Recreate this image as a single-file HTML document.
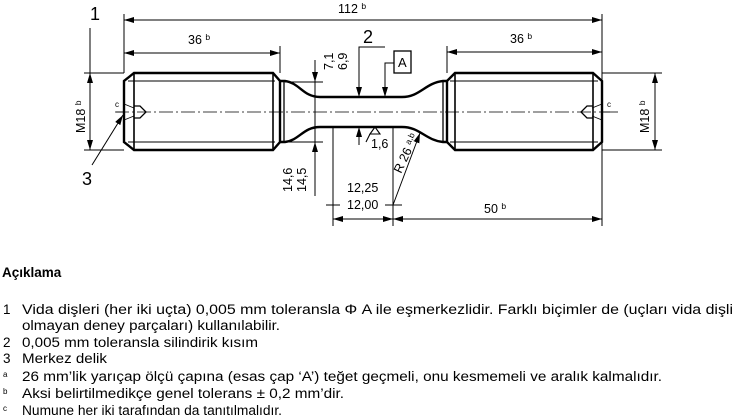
<!DOCTYPE html>
<html><head><meta charset="utf-8"><style>
html,body{margin:0;padding:0;background:#fff;width:735px;height:420px;overflow:hidden}
svg{display:block}
.t{font-family:"Liberation Sans",sans-serif;font-size:13.5px;fill:#000}
.d{font-family:"Liberation Sans",sans-serif;font-size:12.5px;fill:#000}
</style></head><body>
<svg width="735" height="420" viewBox="0 0 735 420" xmlns="http://www.w3.org/2000/svg">
<defs>
<marker id="a" viewBox="0 0 10 6" refX="10" refY="3" markerWidth="10" markerHeight="6" orient="auto-start-reverse" markerUnits="userSpaceOnUse"><path d="M0,0 L10,3 L0,6 z" fill="#000"/></marker>
</defs>
<g stroke="#000" fill="none">
<path d="M134,73 L273,73 L280,81 L280,142 L273,150 L134,150 L124,142 L124,81 Z" stroke-width="2.4"/>
<line x1="134" y1="73" x2="134" y2="150" stroke-width="1.6"/>
<line x1="273" y1="73" x2="273" y2="150" stroke-width="1.6"/>
<line x1="128" y1="81" x2="275" y2="81" stroke-width="1.1"/>
<line x1="128" y1="142" x2="275" y2="142" stroke-width="1.1"/>
<line x1="284" y1="81" x2="284" y2="142" stroke-width="1.3"/>
<path d="M455,73 L593,73 L602,81 L602,142 L593,150 L455,150 L447,142 L447,81 Z" stroke-width="2.4"/>
<line x1="455" y1="73" x2="455" y2="150" stroke-width="1.6"/>
<line x1="593" y1="73" x2="593" y2="150" stroke-width="1.6"/>
<line x1="450" y1="81" x2="598" y2="81" stroke-width="1.1"/>
<line x1="450" y1="142" x2="598" y2="142" stroke-width="1.1"/>
<line x1="443" y1="81" x2="443" y2="142" stroke-width="1.3"/>
<path d="M280,81 L285,81 C300,83 303,97 320,97 L402,97 C420,97 425,83 443,81 L447,81" stroke-width="2.4"/>
<path d="M280,142 L285,142 C300,140 303,127 320,127 L402,127 C420,127 425,140 443,142 L447,142" stroke-width="2.4"/>
<line x1="115" y1="112" x2="610" y2="112" stroke-width="0.8" stroke-dasharray="14,3,2,3"/>
<path d="M134,106 L140,106 L146,112 L140,118 L134,118" stroke-width="1.3"/>
<path d="M593,106 L587,106 L581,112 L587,118 L593,118" stroke-width="1.3"/>
<line x1="124" y1="104" x2="134" y2="108" stroke-width="0.8"/><line x1="124" y1="120" x2="134" y2="116" stroke-width="0.8"/>
<line x1="602" y1="104" x2="592" y2="108" stroke-width="0.8"/><line x1="602" y1="120" x2="592" y2="116" stroke-width="0.8"/>
<line x1="602" y1="112" x2="618" y2="112" stroke-width="0.8"/>
<line x1="116" y1="112" x2="124" y2="112" stroke-width="0.8"/>
<g stroke-width="1">
<line x1="124" y1="14" x2="124" y2="73"/>
<line x1="602" y1="14" x2="602" y2="226"/>
<line x1="280" y1="46" x2="280" y2="73"/>
<line x1="447" y1="46" x2="447" y2="73"/>
<line x1="84" y1="73" x2="124" y2="73"/>
<line x1="84" y1="150" x2="124" y2="150"/>
<line x1="602" y1="73" x2="662" y2="73"/>
<line x1="602" y1="150" x2="662" y2="150"/>
<line x1="285" y1="82" x2="323" y2="82"/>
<line x1="285" y1="142" x2="323" y2="142"/>
<line x1="333" y1="127" x2="333" y2="226"/>
<line x1="393" y1="127" x2="393" y2="226"/>
<line x1="326" y1="205" x2="340" y2="205"/>
<line x1="385" y1="205" x2="402" y2="205"/>
</g>
<g stroke-width="1">
<line x1="124" y1="20" x2="602" y2="20" marker-start="url(#a)" marker-end="url(#a)"/>
<line x1="124" y1="53" x2="280" y2="53" marker-start="url(#a)" marker-end="url(#a)"/>
<line x1="447" y1="52" x2="602" y2="52" marker-start="url(#a)" marker-end="url(#a)"/>
<line x1="90" y1="73" x2="90" y2="150" marker-start="url(#a)" marker-end="url(#a)"/>
<line x1="90" y1="28" x2="90" y2="73"/>
<line x1="655" y1="73" x2="655" y2="150" marker-start="url(#a)" marker-end="url(#a)"/>
<line x1="315" y1="60" x2="315" y2="82" marker-end="url(#a)"/>
<line x1="315" y1="196" x2="315" y2="142" marker-end="url(#a)"/>
<line x1="315" y1="82" x2="315" y2="142"/>
<line x1="333" y1="219" x2="393" y2="219" marker-start="url(#a)" marker-end="url(#a)"/>
<line x1="393" y1="219" x2="602" y2="219" marker-start="url(#a)" marker-end="url(#a)"/>
<polyline points="385,47 359,47 359,82"/>
<line x1="359" y1="82" x2="359" y2="97" marker-end="url(#a)"/>
<line x1="359" y1="145" x2="359" y2="127" marker-end="url(#a)"/>
<polyline points="394,63 385,63 385,85"/>
<line x1="385" y1="85" x2="385" y2="97" marker-end="url(#a)"/>
<line x1="393" y1="205" x2="420" y2="133" marker-end="url(#a)"/>
<line x1="92" y1="165" x2="123" y2="115" marker-end="url(#a)"/>
</g>
<rect x="394" y="51" width="17" height="22" stroke-width="1.3"/>
<path d="M370,134 L375,127 L380,134 Z M370,134 L366,142" stroke-width="1.1"/>
</g>
<g class="d">
<text x="90" y="20" font-size="18">1</text>
<text x="363" y="43" font-size="18">2</text>
<text x="82" y="185" font-size="18">3</text>
<text x="398" y="67" font-size="13">A</text>
<text x="338" y="13">112 <tspan font-size="8.5" dy="-4">b</tspan></text>
<text x="188" y="44">36 <tspan font-size="8.5" dy="-4">b</tspan></text>
<text x="510" y="43">36 <tspan font-size="8.5" dy="-4">b</tspan></text>
<text x="484" y="213">50 <tspan font-size="8.5" dy="-4">b</tspan></text>
<text x="347" y="192">12,25</text>
<text x="347" y="209">12,00</text>
<text x="371" y="148">1,6</text>
<text x="115" y="107" font-size="8">c</text>
<text x="607" y="107" font-size="8">c</text>
<text transform="translate(85,133) rotate(-90)">M18 <tspan font-size="8.5" dy="-4">b</tspan></text>
<text transform="translate(649,133) rotate(-90)">M18 <tspan font-size="8.5" dy="-4">b</tspan></text>
<text transform="translate(333,70) rotate(-90)">7,1</text>
<text transform="translate(347,70) rotate(-90)">6,9</text>
<text transform="translate(292,192) rotate(-90)">14,6</text>
<text transform="translate(306,192) rotate(-90)">14,5</text>
<text transform="translate(401,174) rotate(-65)">R 26 <tspan font-size="8.5" dy="-4">a,b</tspan></text>
</g>
<text class="t" x="2" y="277" font-weight="bold">Açıklama</text>
<g class="t">
<text x="3" y="314">1</text>
<text x="22" y="314" textLength="711" lengthAdjust="spacingAndGlyphs">Vida dişleri (her iki uçta) 0,005 mm toleransla Φ A ile eşmerkezlidir. Farklı biçimler de (uçları vida dişli</text>
<text x="22" y="330" textLength="258" lengthAdjust="spacingAndGlyphs">olmayan deney parçaları) kullanılabilir.</text>
<text x="3" y="347">2</text>
<text x="22" y="347" textLength="236" lengthAdjust="spacingAndGlyphs">0,005 mm toleransla silindirik kısım</text>
<text x="3" y="363">3</text>
<text x="22" y="363" textLength="85" lengthAdjust="spacingAndGlyphs">Merkez delik</text>
<text x="3" y="377" font-size="8">a</text>
<text x="22" y="381" textLength="640" lengthAdjust="spacingAndGlyphs">26 mm’lik yarıçap ölçü çapına (esas çap ‘A’) teğet geçmeli, onu kesmemeli ve aralık kalmalıdır.</text>
<text x="3" y="394" font-size="8">b</text>
<text x="22" y="398" textLength="322" lengthAdjust="spacingAndGlyphs">Aksi belirtilmedikçe genel tolerans ± 0,2 mm’dir.</text>
<text x="3" y="411" font-size="8">c</text>
<text x="22" y="415" textLength="260" lengthAdjust="spacingAndGlyphs">Numune her iki tarafından da tanıtılmalıdır.</text>
</g>
</svg>
</body></html>
